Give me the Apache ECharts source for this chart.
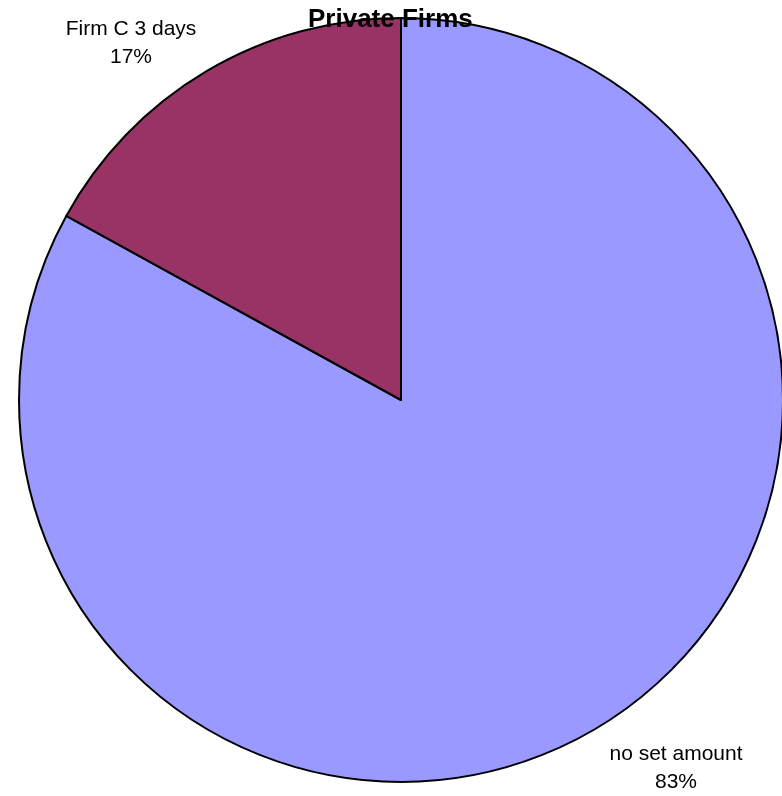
<!DOCTYPE html>
<html>
<head>
<meta charset="utf-8">
<script src="https://cdn.jsdelivr.net/npm/echarts@6/dist/echarts.min.js"></script>
<style>
  html, body { margin: 0; padding: 0; background: #ffffff; }
  #chart { width: 782px; height: 796px; }
</style>
</head>
<body>
<div id="chart"></div>
<script>
// Share of private firms by allowance policy
const categories = ['no set amount', 'Firm C 3 days'];
const shares = [83, 17];
const sliceColors = ['#9999FF', '#993366'];

// Where each slice's caption sits (centre of the two-line label block)
const labelSpots = [
  { x: 676, y: 768 },
  { x: 131, y: 43 }
];

const chart = echarts.init(document.getElementById('chart'), null, { renderer: 'canvas' });

chart.setOption({
  backgroundColor: '#ffffff',
  animation: false,
  title: {
    text: 'Private Firms',
    left: 303,
    top: 2,
    z: 10,
    textStyle: {
      fontFamily: 'Liberation Sans, Arial, sans-serif',
      fontSize: 26,
      fontWeight: 'bold',
      color: '#000000'
    }
  },
  series: [{
    type: 'pie',
    center: [401, 400],
    radius: [0, 382],
    startAngle: 90,
    clockwise: true,
    data: categories.map((name, i) => ({
      name: name,
      value: shares[i],
      itemStyle: { color: sliceColors[i] }
    })),
    itemStyle: {
      borderColor: '#000000',
      borderWidth: 2
    },
    label: {
      show: true,
      position: 'outside',
      formatter: '{b}\n{c}%',
      fontFamily: 'Liberation Sans, Arial, sans-serif',
      fontSize: 21,
      lineHeight: 28,
      color: '#000000',
      align: 'center'
    },
    labelLine: { show: false },
    labelLayout: function (params) {
      const spot = labelSpots[params.dataIndex];
      return {
        x: spot.x,
        y: spot.y,
        align: 'center',
        verticalAlign: 'middle',
        hideOverlap: false,
        moveOverlap: null
      };
    },
    emphasis: { disabled: true }
  }]
});
</script>
</body>
</html>
